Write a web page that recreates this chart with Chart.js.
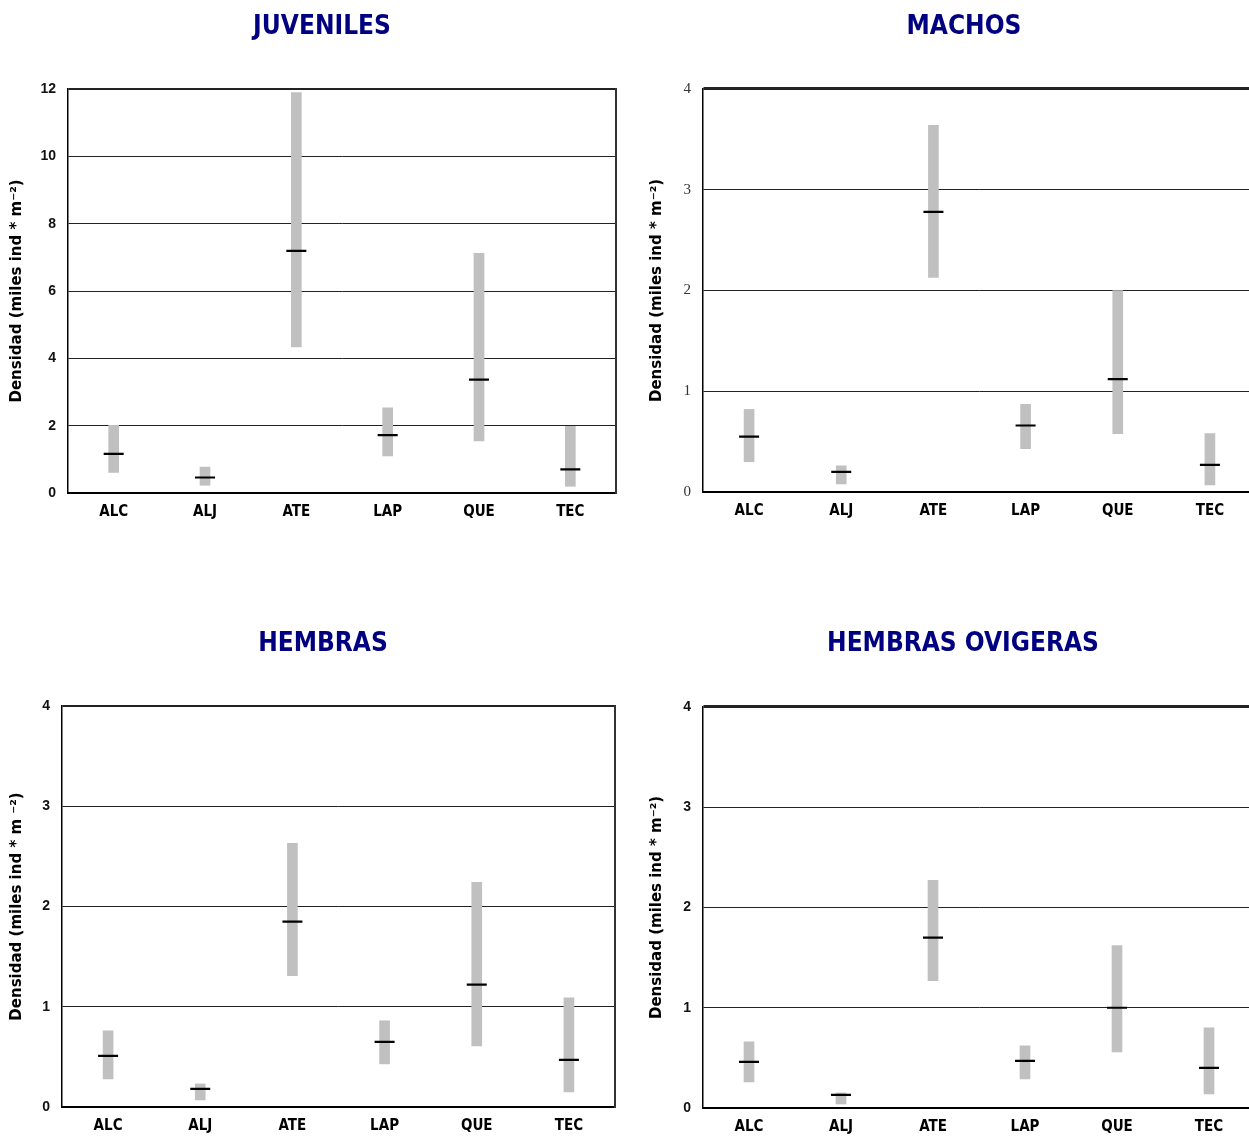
<!DOCTYPE html>
<html>
<head>
<meta charset="utf-8">
<script src="https://cdn.jsdelivr.net/npm/chart.js@4.4.1/dist/chart.umd.min.js"></script>
<style>
  html, body { margin: 0; padding: 0; background: #ffffff; overflow: hidden; width: 1249px; height: 1138px; }
  canvas { position: absolute; }
</style>
</head>
<body>
<canvas id="c1"></canvas>
<canvas id="c2"></canvas>
<canvas id="c3"></canvas>
<canvas id="c4"></canvas>
<script>
// ---- Data ----
const categories = ['ALC', 'ALJ', 'ATE', 'LAP', 'QUE', 'TEC'];

const juvenilesMin  = [0.61, 0.23, 4.34, 1.10, 1.55, 0.20];
const juvenilesMax  = [2.01, 0.77, 11.89, 2.53, 7.12, 1.98];
const juvenilesMean = [1.16, 0.46, 7.19, 1.72, 3.37, 0.70];

const machosMin  = [0.30, 0.08, 2.13, 0.43, 0.58, 0.07];
const machosMax  = [0.82, 0.26, 3.64, 0.87, 2.00, 0.58];
const machosMean = [0.55, 0.20, 2.78, 0.66, 1.12, 0.27];

const hembrasMin  = [0.28, 0.07, 1.31, 0.43, 0.61, 0.15];
const hembrasMax  = [0.76, 0.23, 2.63, 0.86, 2.24, 1.09];
const hembrasMean = [0.51, 0.18, 1.85, 0.65, 1.22, 0.47];

const ovigerasMin  = [0.26, 0.04, 1.27, 0.29, 0.56, 0.14];
const ovigerasMax  = [0.66, 0.15, 2.27, 0.62, 1.62, 0.80];
const ovigerasMean = [0.46, 0.13, 1.70, 0.47, 1.00, 0.40];

const titles = ['JUVENILES', 'MACHOS', 'HEMBRAS', 'HEMBRAS OVIGERAS'];
const yTitles = [
  'Densidad (miles ind * m\u207B\u00B2)',
  'Densidad (miles ind * m\u207B\u00B2)',
  'Densidad (miles ind * m \u207B\u00B2)',
  'Densidad (miles ind * m\u207B\u00B2)'
];
const yMaxes = [12, 4, 4, 4];
const ySteps = [2, 1, 1, 1];

// ---- Layout / style ----
const NARROW = "'Liberation Sans Narrow', 'DejaVu Sans Condensed', 'Liberation Sans', Arial, sans-serif";
const WIDE = "'DejaVu Sans', 'Liberation Sans', Arial, sans-serif";
const SANS = "'Liberation Sans', Arial, sans-serif";
const SERIF = "'Liberation Serif', 'DejaVu Serif', serif";

const panels = [
  { id: 'c1', left: 0,   top: 0,   width: 644, height: 540, yWidth: 68, plotTop: 89, plotBottom: 493, padRight: 28, topLine: 2,
    min: juvenilesMin, max: juvenilesMax, mean: juvenilesMean, tickFont: { family: SANS, size: 14, weight: 'bold' }, tickColor: '#111' },
  { id: 'c2', left: 640, top: 0,   width: 648, height: 540, yWidth: 63, plotTop: 89, plotBottom: 492, padRight: 32, topLine: 3,
    min: machosMin, max: machosMax, mean: machosMean, tickFont: { family: SERIF, size: 15, weight: 'normal' }, tickColor: '#333' },
  { id: 'c3', left: 0,   top: 617, width: 646, height: 540, yWidth: 62, plotTop: 89, plotBottom: 490, padRight: 31, topLine: 2,
    min: hembrasMin, max: hembrasMax, mean: hembrasMean, tickFont: { family: SANS, size: 14, weight: 'bold' }, tickColor: '#111' },
  { id: 'c4', left: 640, top: 617, width: 646, height: 540, yWidth: 63, plotTop: 90, plotBottom: 491, padRight: 31, topLine: 3,
    min: ovigerasMin, max: ovigerasMax, mean: ovigerasMean, tickFont: { family: SANS, size: 14, weight: 'bold' }, tickColor: '#111' }
];

panels.forEach((p, i) => {
  const cv = document.getElementById(p.id);
  cv.width = p.width;
  cv.height = p.height;
  cv.style.left = p.left + 'px';
  cv.style.top = p.top + 'px';

  const titleSize = 26, titleLH = 1.2;
  const titlePadTop = 27 - titleSize * titleLH / 2;
  const titlePadBottom = p.plotTop - titlePadTop - titleSize * titleLH;
  const ranges = categories.map((c, k) => [p.min[k], p.max[k]]);

  new Chart(cv, {
    data: {
      labels: categories,
      datasets: [
        {
          type: 'line',
          data: p.mean,
          showLine: false,
          pointStyle: 'line',
          pointRadius: 10,
          pointHoverRadius: 10,
          pointBorderWidth: 2.2,
          borderColor: '#000',
          backgroundColor: '#000',
          order: 1
        },
        {
          type: 'bar',
          data: ranges,
          backgroundColor: '#c0c0c0',
          borderWidth: 0,
          barThickness: 10,
          order: 2
        }
      ]
    },
    options: {
      responsive: false,
      animation: false,
      layout: { padding: 0 },
      plugins: {
        legend: { display: false },
        tooltip: { enabled: false },
        title: {
          display: true,
          text: titles[i],
          color: '#000080',
          font: { family: NARROW, size: titleSize, weight: 'bold', lineHeight: titleLH },
          padding: { top: titlePadTop, bottom: titlePadBottom }
        }
      },
      scales: {
        x: {
          type: 'category',
          offset: true,
          grid: { display: false, drawTicks: false },
          border: { display: true, color: '#000', width: 2 },
          ticks: { color: '#000', font: { family: NARROW, size: 15, weight: 'bold' }, padding: 10, maxRotation: 0 },
          afterFit(scale) { scale.height = p.height - p.plotBottom; }
        },
        y: {
          min: 0,
          max: yMaxes[i],
          ticks: { stepSize: ySteps[i], color: p.tickColor, font: p.tickFont, padding: 12 },
          grid: {
            drawTicks: false,
            color: '#222',
            lineWidth: (ctx) => (ctx.tick && ctx.tick.value === yMaxes[i]) ? p.topLine : 1
          },
          border: { display: true, color: '#000', width: 1.5 },
          title: {
            display: true,
            text: yTitles[i],
            color: '#000',
            font: { family: WIDE, size: 15, weight: 'bold', lineHeight: 1.2 },
            padding: { top: 8, bottom: 0 }
          },
          afterFit(scale) { scale.width = p.yWidth; }
        },
        yRight: {
          position: 'right',
          min: 0,
          max: yMaxes[i],
          display: true,
          ticks: { display: false },
          grid: { display: false, drawTicks: false },
          border: { display: true, color: '#333', width: 2 },
          afterFit(scale) { scale.width = p.padRight; }
        }
      }
    }
  });
});
</script>
</body>
</html>
